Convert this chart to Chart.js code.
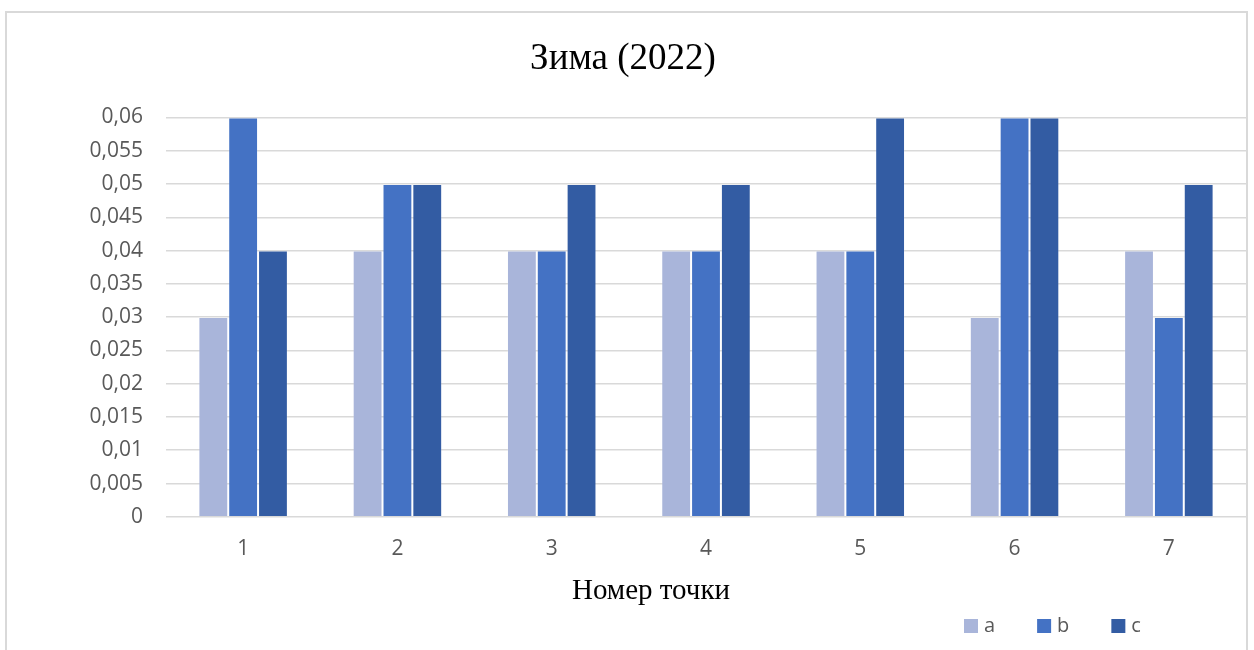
<!DOCTYPE html>
<html lang="ru">
<head>
<meta charset="utf-8">
<title>Зима (2022)</title>
<script src="https://cdn.jsdelivr.net/npm/chart.js@4/dist/chart.umd.min.js"></script>
<style>
  html, body { margin: 0; padding: 0; background: #ffffff; overflow: hidden; }
  body { width: 1254px; height: 650px; position: relative; }
  .frame {
    position: absolute; left: 5px; top: 11px;
    width: 1239px; height: 700px;
    border: 2px solid #d9d9d9;
  }
  #chart { position: absolute; left: 0; top: 0; }
</style>
</head>
<body>
<div class="frame"></div>
<canvas id="chart" width="1254" height="650"></canvas>
<script>
// Measurement points and the three series measured at each of them
const points = ['1', '2', '3', '4', '5', '6', '7'];
const seriesNames = ['a', 'b', 'c'];
const valuesA = [0.03, 0.04, 0.04, 0.04, 0.04, 0.03, 0.04];
const valuesB = [0.06, 0.05, 0.04, 0.04, 0.04, 0.06, 0.03];
const valuesC = [0.04, 0.05, 0.05, 0.05, 0.06, 0.06, 0.05];
const seriesColors = ['#a9b5da', '#4472c4', '#335ca3'];

const chartTitle = 'Зима (2022)';
const xAxisTitle = 'Номер точки';
const yMin = 0, yMax = 0.06, yStep = 0.005;

const GREY = '#595959';
const SANS = "'Open Sans', 'Noto Sans', sans-serif";
const SERIF = "'Liberation Serif', 'DejaVu Serif', serif";

// Comma decimal separator, trailing zeros dropped (0,06 / 0,055 / 0)
function formatTick(v) {
  return String(Number(v.toFixed(3))).replace('.', ',');
}

// Axis caption and legend row under the plot
const bottomCaptions = {
  id: 'bottomCaptions',
  afterDraw(chart) {
    const ctx = chart.ctx;
    const area = chart.chartArea;
    ctx.save();

    // axis caption, a little left of the plot centre
    ctx.font = "29px " + SERIF;
    ctx.fillStyle = '#000000';
    ctx.textAlign = 'center';
    ctx.textBaseline = 'middle';
    ctx.fillText(xAxisTitle, (area.left + area.right) / 2 - 55, chart.height - 59);

    // legend: square + series name, right side
    const box = 14, gapText = 6, gapItem = 42;
    const cy = chart.height - 24;
    let x = area.right - 282;
    ctx.font = "20px " + SANS;
    ctx.textAlign = 'left';
    chart.data.datasets.forEach(ds => {
      ctx.fillStyle = ds.backgroundColor;
      ctx.fillRect(x, cy - box / 2, box, box);
      ctx.fillStyle = GREY;
      ctx.fillText(ds.label, x + box + gapText, cy);
      x += box + gapText + ctx.measureText(ds.label).width + gapItem;
    });
    ctx.restore();
  }
};

const seriesValues = [valuesA, valuesB, valuesC];

new Chart(document.getElementById('chart'), {
  type: 'bar',
  data: {
    labels: points,
    datasets: seriesNames.map((name, i) => ({
      label: name,
      data: seriesValues[i],
      backgroundColor: seriesColors[i],
      borderColor: 'rgba(255,255,255,0.14)',
      borderWidth: 1,
      borderSkipped: 'bottom',
      barPercentage: 1.0,
      categoryPercentage: 0.58
    }))
  },
  plugins: [bottomCaptions],
  options: {
    responsive: false,
    animation: false,
    layout: { padding: { left: 0, right: 8, top: 0, bottom: 68 } },
    plugins: {
      legend: { display: false },
      tooltip: { enabled: false },
      title: {
        display: true,
        text: chartTitle,
        color: '#000000',
        font: { family: SERIF, size: 37, weight: 'normal' },
        padding: { top: 37, bottom: 36 }
      }
    },
    scales: {
      x: {
        grid: { display: false, drawTicks: false },
        border: { display: false },
        ticks: { color: GREY, font: { family: SANS, size: 21 }, padding: 20 }
      },
      y: {
        min: yMin,
        max: yMax,
        afterFit(scale) { scale.width = 166; },
        grid: { color: '#d9d9d9', lineWidth: 1.5, drawTicks: false },
        border: { display: false },
        ticks: {
          stepSize: yStep,
          color: GREY,
          font: { family: SANS, size: 21 },
          padding: 23,
          callback: v => formatTick(v)
        }
      }
    }
  }
});
</script>
</body>
</html>
